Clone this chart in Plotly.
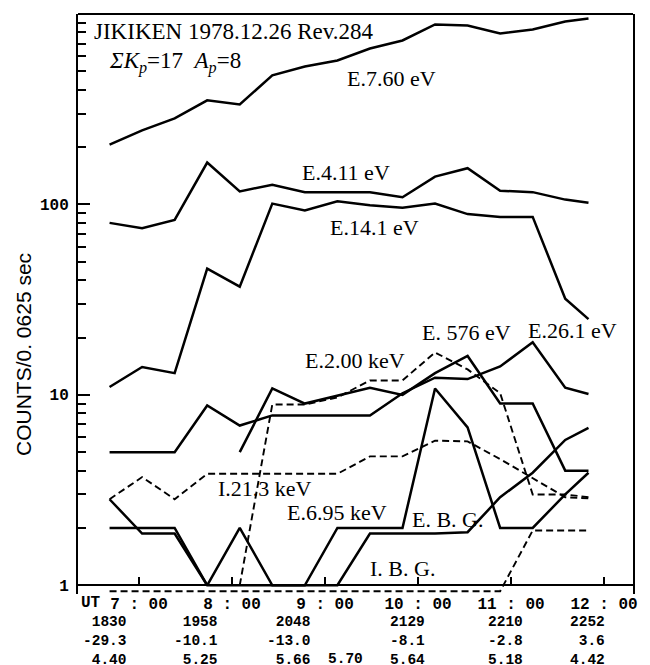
import numpy as np
import plotly.graph_objects as go

# ---------------- data ----------------
ut_times = ["6:41", "7:02", "7:23", "7:44", "8:05", "8:26", "8:47", "9:08",
            "9:29", "9:50", "10:11", "10:32", "10:53", "11:14", "11:35", "11:50"]

e_7_60_ev = [206, 245, 283, 352, 335, 476, 530, 570, 659, 726, 881, 871, 790, 829, 914, 947]
e_4_11_ev = [80, 75, 83, 166, 117, 127, 116, 116, 116, 109, 140, 155, 118, 116, 106, 102]
e_14_1_ev = [11, 14, 13, 46, 37, 101, 93, 104, 99, 96, 101, 89, 86, 86, 32, 25]
e_26_1_ev = [5, 5, 5, 8.8, 6.9, 7.8, 7.8, 7.8, 7.8, 10.2, 12.3, 12.1, 14.1, 18.9, 10.9, 10.1]
e_576_ev = [None, None, None, None, 5.0, 10.8, 9.0, 9.9, 10.9, 10.0, 13.0, 16.0, 9.0, 9.0, 4.0, 4.0]
e_2_00_kev = [None, None, None, None, 1.0, 8.9, 8.9, 9.7, 11.9, 11.9, 16.7, 13.6, 10.2, 3.0, 3.0, 2.9]
i_21_3_kev = [2.83, 3.7, 2.83, 3.85, 3.85, 3.85, 3.85, 3.85, 4.75, 4.75, 5.75, 5.7, 4.6, 3.65, 2.9, 2.86]
e_6_95_kev = [2, 2, 2, 1, 2, 1, 1, 2, 2, 2, 10.8, 6.75, 2, 2, 3.0, 3.9]
e_bg = [2.83, 1.87, 1.87, 1, 1, 1, 1, 1, 1.87, 1.87, 1.87, 1.9, 2.9, 3.9, 5.8, 6.7]
i_bg = [0.93, 0.93, 0.93, 0.93, 0.93, 0.93, 0.93, 0.93, 0.93, 0.93, 0.93, 0.93, 0.93, 1.94, 1.94, 1.94]

x_tick_hours = [7, 8, 9, 10, 11, 12]
x_tick_text = ["7 : 00", "8 : 00", "9 : 00", "10 : 00", "11 : 00", "12 : 00"]
y_tick_vals = [1, 10, 100]
y_tick_text = ["1", "10", "100"]
y_minor_vals = [2, 3, 4, 5, 6, 7, 8, 9, 20, 30, 40, 50, 60, 70, 80, 90,
                200, 300, 400, 500, 600, 700, 800, 900]

orbit_col_1 = ["1830", "-29.3", "4.40"]
orbit_col_2 = ["1958", "-10.1", "5.25"]
orbit_col_3 = ["2048", "-13.0", "5.66"]
orbit_extra = "5.70"
orbit_col_4 = ["2129", "-8.1", "5.64"]
orbit_col_5 = ["2210", "-2.8", "5.18"]
orbit_col_6 = ["2252", "3.6", "4.42"]

hours = [int(s.split(":")[0]) + int(s.split(":")[1]) / 60 for s in ut_times]

# ---------------- layout geometry ----------------
W, H = 650, 665
L, R, T, B = 78, 17, 14, 71
ymin_log, ymax_log = np.log10(0.9), 3.0
x_lo, x_hi = 6.344, 12.312

fig = go.Figure()

series = [
    (e_7_60_ev, "solid"), (e_4_11_ev, "solid"), (e_14_1_ev, "solid"),
    (e_26_1_ev, "solid"), (e_576_ev, "solid"), (e_6_95_kev, "solid"),
    (e_bg, "solid"), (e_2_00_kev, "7px,4px"), (i_21_3_kev, "7px,4px"),
    (i_bg, "7px,4px"),
]
for vals, dash in series:
    fig.add_trace(go.Scatter(
        x=hours, y=vals, mode="lines", connectgaps=False, showlegend=False,
        line=dict(color="black", width=2.5 if dash == "solid" else 1.9, dash=dash),
    ))


def ann(text, px, py, size, family="Liberation Serif", xanchor="center",
        yanchor="middle", weight="normal", textangle=0, align="center"):
    return dict(text=text, x=(px - L) / (W - L - R), y=(H - B - py) / (H - T - B),
                xref="paper", yref="paper", xanchor=xanchor, yanchor=yanchor,
                showarrow=False, textangle=textangle, align=align,
                font=dict(family=family, size=size, color="black", weight=weight))


annotations = [
    ann("JIKIKEN 1978.12.26 Rev.284", 92, 32, 23, xanchor="left"),
    ann("<i>ΣK</i><sub><i>p</i></sub>=17\u00a0\u00a0<i>A</i><sub><i>p</i></sub>=8", 107, 62, 23, xanchor="left"),
    ann("E.7.60 eV", 391, 78, 22),
    ann("E.4.11 eV", 346, 172, 22),
    ann("E.14.1 eV", 374, 228, 22),
    ann("E. 576 eV", 466, 332, 22),
    ann("E.26.1 eV", 572, 331, 22),
    ann("E.2.00 keV", 355, 360, 22),
    ann("I.21.3 keV", 265, 488, 22),
    ann("E.6.95 keV", 337, 512, 22),
    ann("E. B. G.", 448, 519, 22),
    ann("I. B. G.", 402, 568, 22),
    ann("UT", 91, 603, 16, family="Liberation Mono", weight="bold"),
    ann("COUNTS/0. 0625 sec", 23, 355, 21, family="Liberation Sans", textangle=-90),
]

cols = [(orbit_col_1, 129), (orbit_col_2, 220), (orbit_col_3, 313),
        (orbit_col_4, 427), (orbit_col_5, 525), (orbit_col_6, 607)]
for col, xr in cols:
    annotations.append(ann("<br>".join(col), xr, 612, 14.5, family="Liberation Mono",
                           xanchor="right", yanchor="top", weight="bold", align="right"))
annotations.append(ann(orbit_extra, 365, 659, 14.5, family="Liberation Mono",
                       xanchor="right", weight="bold"))

fig.update_layout(
    width=W, height=H,
    margin=dict(l=L, r=R, t=T, b=B, pad=0),
    paper_bgcolor="white", plot_bgcolor="white",
    annotations=annotations,
    shapes=[dict(type="line", xref="paper", yref="paper", x0=0, x1=1, y0=1, y1=1,
                 line=dict(color="black", width=2))],
    xaxis=dict(
        range=[x_lo, x_hi], anchor="free",
        position=(0 - ymin_log) / (ymax_log - ymin_log),
        tickvals=x_tick_hours, ticktext=x_tick_text,
        ticks="inside", ticklen=7, tickwidth=1.5, tickcolor="black",
        showline=True, linecolor="black", linewidth=2,
        showgrid=False, zeroline=False, ticklabelstandoff=4,
        tickfont=dict(family="Liberation Mono", size=16, color="black", weight="bold"),
    ),
    yaxis=dict(
        type="log", range=[ymin_log, ymax_log],
        tickvals=y_tick_vals, ticktext=y_tick_text,
        ticks="inside", ticklen=12, tickwidth=1.5, tickcolor="black",
        minor=dict(tickvals=y_minor_vals, ticks="inside", ticklen=8,
                   tickwidth=1.5, tickcolor="black", showgrid=False),
        showline=True, mirror=True, linecolor="black", linewidth=2,
        showgrid=False, zeroline=False, ticklabelstandoff=4,
        tickfont=dict(family="Liberation Mono", size=16, color="black", weight="bold"),
    ),
)

fig.write_html("out.html")
